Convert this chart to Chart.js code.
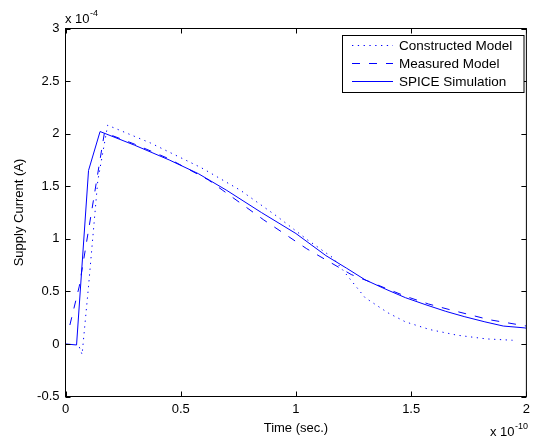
<!DOCTYPE html>
<html>
<head>
<meta charset="utf-8">
<script src="https://cdn.jsdelivr.net/npm/chart.js@4/dist/chart.umd.min.js"></script>
<style>
html,body{margin:0;padding:0;background:#fff;}
#wrap{width:535px;height:440px;}
</style>
</head>
<body>
<div id="wrap"><canvas id="c" width="535" height="440"></canvas></div>
<script>
// Time in units of 1e-10 s, current in units of 1e-4 A
const constructedTime = [0.06, 0.072, 0.10, 0.14, 0.183, 0.37, 0.59, 0.76, 0.92, 1.05, 1.16, 1.23, 1.30, 1.40, 1.475, 1.58, 1.70, 1.825, 1.94];
const constructedCurrent = [-0.03, -0.10, 0.55, 1.55, 2.08, 1.91, 1.675, 1.46, 1.21, 0.99, 0.82, 0.63, 0.44, 0.295, 0.21, 0.137, 0.083, 0.048, 0.035];

const measuredTime = [0.019, 0.06, 0.12, 0.169, 0.30, 0.45, 0.62, 0.683, 0.86, 1.047, 1.24, 1.31, 1.40, 1.48, 1.575, 1.66, 1.75, 1.84, 1.92, 2.0];
const measuredCurrent = [0.18, 0.55, 1.35, 2.01, 1.90, 1.76, 1.56, 1.46, 1.18, 0.905, 0.66, 0.60, 0.52, 0.45, 0.38, 0.33, 0.28, 0.23, 0.20, 0.17];

const spiceTime = [0, 0.048, 0.10, 0.15, 0.30, 0.45, 0.576, 0.70, 0.85, 1.00, 1.13, 1.22, 1.30, 1.39, 1.475, 1.56, 1.65, 1.73, 1.82, 1.90, 1.99, 2.0];
const spiceCurrent = [0, -0.01, 1.65, 2.02, 1.89, 1.75, 1.62, 1.46, 1.25, 1.05, 0.84, 0.72, 0.61, 0.52, 0.44, 0.375, 0.31, 0.26, 0.21, 0.17, 0.153, 0.15];

const seriesNames = ['Constructed Model', 'Measured Model', 'SPICE Simulation'];
const xTickValues = [0, 0.5, 1, 1.5, 2];
const yTickValues = [-0.5, 0, 0.5, 1, 1.5, 2, 2.5, 3];
const xAxisTitle = 'Time (sec.)';
const yAxisTitle = 'Supply Current (A)';
const xExponent = '-10';
const yExponent = '-4';

const FONT = '"Liberation Sans", Arial, Helvetica, sans-serif';
const BLUE = '#0000ff';

function pts(xs, ys){ return xs.map((x,i)=>({x:x, y:ys[i]})); }

const frameAndExtras = {
  id: 'frameAndExtras',
  afterDraw(chart){
    const ctx = chart.ctx;
    const a = chart.chartArea;
    const xs = chart.scales.x, ys = chart.scales.y;
    ctx.save();
    ctx.strokeStyle = '#000';
    ctx.lineWidth = 1;
    ctx.setLineDash([]);
    ctx.strokeRect(a.left, a.top, a.right - a.left, a.bottom - a.top);
    const tl = 5;
    ctx.beginPath();
    xTickValues.forEach(v=>{
      const px = Math.round(xs.getPixelForValue(v)) + 0.5;
      ctx.moveTo(px, a.bottom); ctx.lineTo(px, a.bottom - tl);
      ctx.moveTo(px, a.top); ctx.lineTo(px, a.top + tl);
    });
    yTickValues.forEach(v=>{
      const py = Math.round(ys.getPixelForValue(v)) + 0.5;
      ctx.moveTo(a.left, py); ctx.lineTo(a.left + tl, py);
      ctx.moveTo(a.right, py); ctx.lineTo(a.right - tl, py);
    });
    ctx.stroke();

    // exponent labels
    ctx.fillStyle = '#000';
    ctx.textBaseline = 'alphabetic';
    ctx.textAlign = 'left';
    ctx.font = '13px ' + FONT;
    ctx.fillText('x 10', a.left - 0.5, 22.5);
    let w = ctx.measureText('x 10').width;
    ctx.font = '9px ' + FONT;
    ctx.fillText(yExponent, a.left - 0.5 + w + 0.5, 16);
    ctx.font = '13px ' + FONT;
    ctx.fillText('x 10', 490, 436);
    w = ctx.measureText('x 10').width;
    ctx.font = '9px ' + FONT;
    ctx.fillText(xExponent, 490 + w + 0.5, 429);

    // axis titles
    ctx.font = '13px ' + FONT;
    ctx.textAlign = 'center';
    ctx.textBaseline = 'middle';
    ctx.fillText(xAxisTitle, (a.left + a.right)/2, 428);
    ctx.save();
    ctx.translate(19, (a.top + a.bottom)/2);
    ctx.rotate(-Math.PI/2);
    ctx.fillText(yAxisTitle, 0, 0);
    ctx.restore();

    // legend
    const lx = 342.5, ly = 35.5, lw = 181.5, lh = 57;
    ctx.fillStyle = '#fff';
    ctx.fillRect(lx, ly, lw, lh);
    ctx.strokeStyle = '#000';
    ctx.strokeRect(lx, ly, lw, lh);
    const rowY = [45.5, 63.5, 81.5];
    chart.data.datasets.forEach((ds, i)=>{
      ctx.strokeStyle = ds.borderColor;
      ctx.lineWidth = ds.borderWidth;
      ctx.setLineDash(ds.borderDash || []);
      ctx.beginPath();
      ctx.moveTo(352, rowY[i]); ctx.lineTo(393, rowY[i]);
      ctx.stroke();
      ctx.setLineDash([]);
      ctx.fillStyle = '#000';
      ctx.font = '13.5px ' + FONT;
      ctx.textAlign = 'left';
      ctx.textBaseline = 'middle';
      ctx.fillText(ds.label, 399, rowY[i] + 0.5);
    });
    ctx.restore();
  }
};

new Chart(document.getElementById('c'), {
  type: 'scatter',
  data: {
    datasets: [
      { label: seriesNames[0], data: pts(constructedTime, constructedCurrent), showLine: true,
        borderColor: BLUE, borderWidth: 1, borderDash: [1.3, 4.5], pointRadius: 0, tension: 0, fill: false },
      { label: seriesNames[1], data: pts(measuredTime, measuredCurrent), showLine: true,
        borderColor: BLUE, borderWidth: 1, borderDash: [8, 9], pointRadius: 0, tension: 0, fill: false },
      { label: seriesNames[2], data: pts(spiceTime, spiceCurrent), showLine: true,
        borderColor: BLUE, borderWidth: 1, pointRadius: 0, tension: 0, fill: false }
    ]
  },
  options: {
    responsive: false,
    animation: false,
    devicePixelRatio: 1,
    layout: { padding: { top: 28.5, right: 2.5, left: 0, bottom: 0 } },
    plugins: { legend: { display: false }, tooltip: { enabled: false } },
    scales: {
      x: {
        type: 'linear', min: 0, max: 2,
        grid: { display: false, drawTicks: false },
        border: { display: false },
        afterBuildTicks: s => { s.ticks = xTickValues.map(v=>({value:v})); },
        afterFit: s => { s.height = 43.5; },
        ticks: { color: '#000', font: { family: FONT, size: 13 }, padding: 5, maxRotation: 0,
                 callback: v => String(v) }
      },
      y: {
        type: 'linear', min: -0.5, max: 3,
        grid: { display: false, drawTicks: false },
        border: { display: false },
        afterBuildTicks: s => { s.ticks = yTickValues.map(v=>({value:v})); },
        afterFit: s => { s.width = 65.5; },
        ticks: { color: '#000', font: { family: FONT, size: 13 }, padding: 6,
                 callback: v => String(v) }
      }
    }
  },
  plugins: [frameAndExtras]
});
</script>
</body>
</html>
